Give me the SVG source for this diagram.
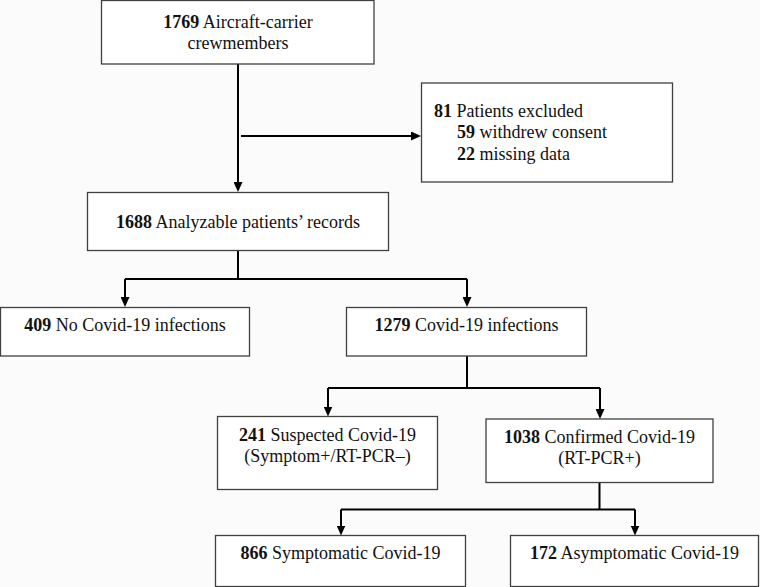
<svg xmlns="http://www.w3.org/2000/svg" width="760" height="587" viewBox="0 0 760 587">
<style>
.box{fill:#ffffff;stroke:#404040;stroke-width:1.3}
.t{font-family:"Liberation Serif","Times New Roman",serif;font-size:18px;fill:#111}
.c{text-anchor:middle}
.b{font-weight:bold}
.ln{fill:none;stroke:#000;stroke-width:2}
</style>
<defs>
<marker id="ah" viewBox="0 0 10 9" refX="4" refY="4.5" markerWidth="10" markerHeight="9" markerUnits="userSpaceOnUse" orient="auto">
<path d="M0,0 L10,4.5 L0,9 z" fill="#000"/>
</marker>
</defs>
<rect width="760" height="587" fill="#fbfbfb"/>
<g id="connectors">
<path class="ln" d="M238,64 V186" marker-end="url(#ah)"/>
<path class="ln" d="M241,136 H415" marker-end="url(#ah)"/>
<path class="ln" d="M238,250.5 V279 M125,279 H467"/>
<path class="ln" d="M125,279 V301" marker-end="url(#ah)"/>
<path class="ln" d="M467,279 V301" marker-end="url(#ah)"/>
<path class="ln" d="M467,356 V388 M328,388 H600"/>
<path class="ln" d="M328,388 V410.5" marker-end="url(#ah)"/>
<path class="ln" d="M600,388 V413" marker-end="url(#ah)"/>
<path class="ln" d="M599.5,482.5 V509.5 M341,509.5 H635"/>
<path class="ln" d="M341,509.5 V529.5" marker-end="url(#ah)"/>
<path class="ln" d="M635,509.5 V529.5" marker-end="url(#ah)"/>
</g>
<g id="crew">
<rect class="box" x="101.5" y="0.5" width="272.5" height="63.5"/>
<text class="t c" x="238" y="28"><tspan class="b">1769</tspan> Aircraft-carrier</text>
<text class="t c" x="238" y="49">crewmembers</text>
</g>
<g id="excluded">
<rect class="box" x="421.5" y="83" width="251" height="99"/>
<text class="t" x="434" y="117"><tspan class="b">81</tspan> Patients excluded</text>
<text class="t" x="457" y="138"><tspan class="b">59</tspan> withdrew consent</text>
<text class="t" x="457" y="160"><tspan class="b">22</tspan> missing data</text>
</g>
<g id="analyzable">
<rect class="box" x="87.5" y="192.5" width="301" height="58"/>
<text class="t c" x="238" y="228"><tspan class="b">1688</tspan> Analyzable patients’ records</text>
</g>
<g id="noinfection">
<rect class="box" x="0.5" y="307.5" width="249" height="48.5"/>
<text class="t c" x="125" y="331"><tspan class="b">409</tspan> No Covid-19 infections</text>
</g>
<g id="infection">
<rect class="box" x="346.5" y="307.5" width="240" height="48.5"/>
<text class="t c" x="466.5" y="331"><tspan class="b">1279</tspan> Covid-19 infections</text>
</g>
<g id="suspected">
<rect class="box" x="217.5" y="416.5" width="220" height="73"/>
<text class="t c" x="327.5" y="441"><tspan class="b">241</tspan> Suspected Covid-19</text>
<text class="t c" x="327.5" y="462">(Symptom+/RT-PCR–)</text>
</g>
<g id="confirmed">
<rect class="box" x="486" y="419" width="227" height="63.5"/>
<text class="t c" x="599.5" y="443"><tspan class="b">1038</tspan> Confirmed Covid-19</text>
<text class="t c" x="599.5" y="463.5">(RT-PCR+)</text>
</g>
<g id="symptomatic">
<rect class="box" x="215.5" y="535.5" width="250" height="51"/>
<text class="t c" x="340.5" y="559"><tspan class="b">866</tspan> Symptomatic Covid-19</text>
</g>
<g id="asymptomatic">
<rect class="box" x="510.5" y="535.5" width="248" height="51"/>
<text class="t c" x="634.5" y="559"><tspan class="b">172</tspan> Asymptomatic Covid-19</text>
</g>
</svg>
